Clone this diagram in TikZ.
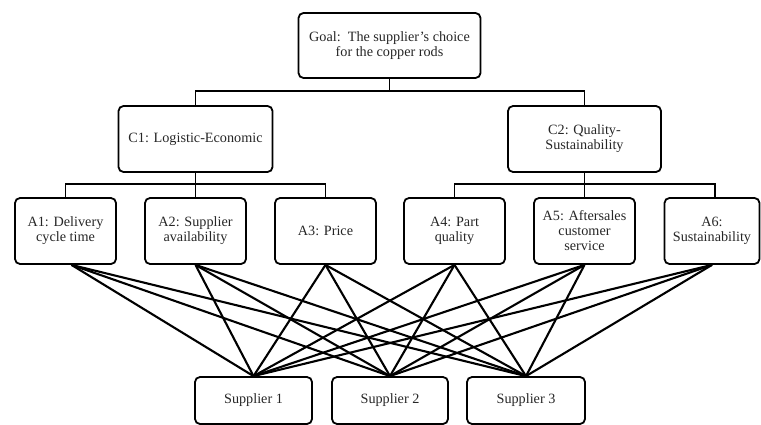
\documentclass[tikz,border=0pt]{standalone}
\usepackage{fontspec}
\setmainfont{Liberation Serif}
\begin{document}
\begin{tikzpicture}[x=1pt,y=-1pt,
  box/.style={draw=black, line width=1.8pt, rounded corners=5pt, align=center,
    inner sep=2pt, font=\fontsize{14.2}{15}\selectfont, text=black!85},
  conn/.style={draw=black, line width=1.9pt},
  link/.style={draw=black, line width=2.1pt}]
\useasboundingbox (0,0) rectangle (761,425);

\node[box, minimum width=182pt, minimum height=65pt] (G) at (389.5,45.5) {Goal:\ \ The supplier's choice\\for the copper rods};
\node[box, minimum width=154pt, minimum height=66pt] (C1) at (195.5,139) {C1: Logistic-Economic};
\node[box, minimum width=153pt, minimum height=66pt] (C2) at (584.5,139) {C2: Quality-\\Sustainability};

\node[box, minimum width=101pt, minimum height=66pt] (A1) at (65.5,231) {A1: Delivery\\cycle time};
\node[box, minimum width=101pt, minimum height=66pt] (A2) at (195.5,231) {A2: Supplier\\availability};
\node[box, minimum width=101pt, minimum height=66pt] (A3) at (325.5,231) {A3: Price};
\node[box, minimum width=101pt, minimum height=66pt] (A4) at (454.5,231) {A4: Part\\quality};
\node[box, minimum width=101pt, minimum height=66pt] (A5) at (584.5,231) {A5: Aftersales\\customer\\service};
\node[box, minimum width=95pt, minimum height=66pt] (A6) at (712,231) {A6:\\Sustainability};

\node[box, minimum width=117pt, minimum height=47pt] (S1) at (253.5,400.5) {Supplier 1};
\node[box, minimum width=116pt, minimum height=47pt] (S2) at (390,400.5) {Supplier 2};
\node[box, minimum width=118pt, minimum height=47pt] (S3) at (526,400.5) {Supplier 3};

% tree connectors
\coordinate (bus0) at (389.5,91);
\draw[conn] (G.south) -- (bus0);
\draw[conn] (C1.north) |- (bus0) -| (C2.north);

\coordinate (bus1) at (195.5,184);
\draw[conn] (C1.south) -- (bus1);
\draw[conn] (A1.north) |- (bus1) -| (A3.north);
\draw[conn] (A2.north) -- (bus1);

\coordinate (bus2) at (584.5,184);
\coordinate (a6top) at ([xshift=3pt]A6.north);
\draw[conn] (C2.south) -- (bus2);
\draw[conn] (A4.north) |- (bus2) -| (a6top);
\draw[conn] (A5.north) -- (bus2);

% links to suppliers
\coordinate (a1b) at ([xshift=6pt]A1.south);
\foreach \a in {a1b, A2.south, A3.south, A4.south, A5.south, A6.south}{
  \foreach \s in {S1, S2, S3}{
    \draw[link] (\a) -- (\s.north);
  }
}
\end{tikzpicture}
\end{document}
